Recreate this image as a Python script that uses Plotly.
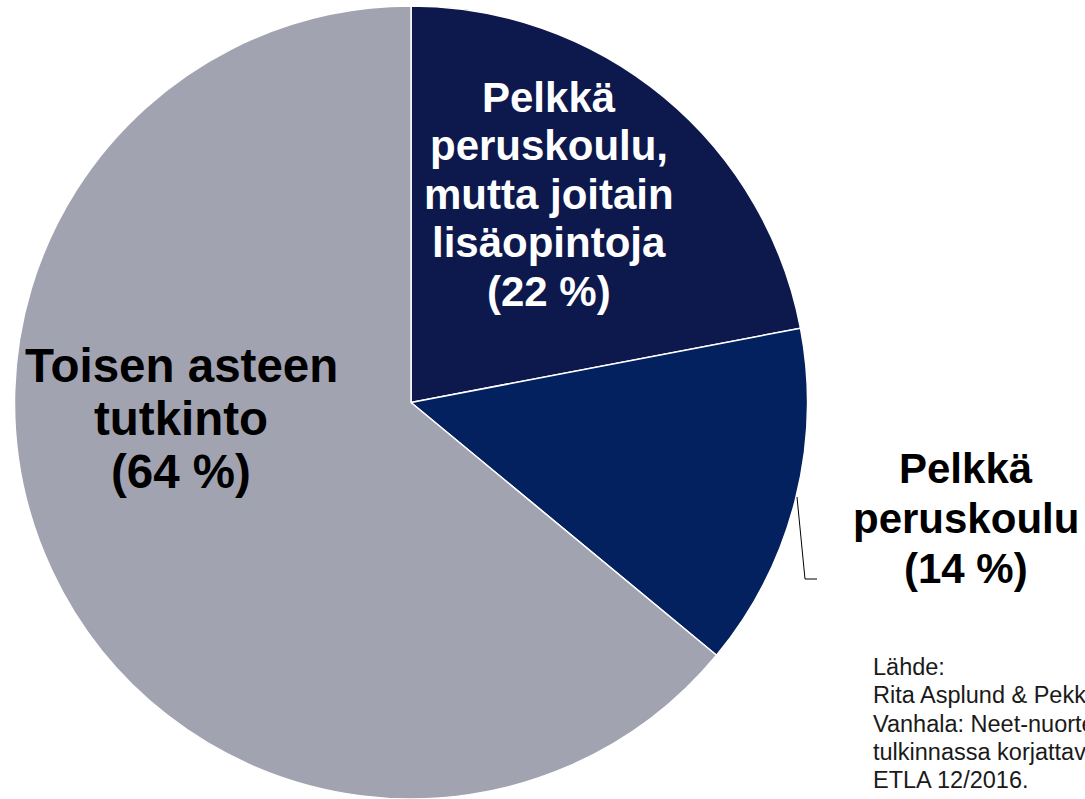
import plotly.graph_objects as go

# ---- data ----
categories = [
    "Pelkkä peruskoulu, mutta joitain lisäopintoja",
    "Pelkkä peruskoulu",
    "Toisen asteen tutkinto",
]
shares = [22, 14, 64]
slice_colors = ["#0d194d", "#03205f", "#a2a3b1"]
label_lines = [
    ["Pelkkä", "peruskoulu,", "mutta joitain", "lisäopintoja", "(22 %)"],
    ["Pelkkä", "peruskoulu", "(14 %)"],
    ["Toisen asteen", "tutkinto", "(64 %)"],
]
source_lines = [
    "Lähde:",
    "Rita Asplund & Pekka",
    "Vanhala: Neet-nuorten",
    "tulkinnassa korjattavaa.",
    "ETLA 12/2016.",
]

W, H = 1085, 799
FONT = "Arial, Liberation Sans, sans-serif"


def px(x):
    return x / W


def py(y):
    return 1 - y / H


fig = go.Figure(
    go.Pie(
        labels=categories,
        values=shares,
        marker=dict(colors=slice_colors, line=dict(color="white", width=1.5)),
        sort=False,
        direction="clockwise",
        rotation=0,
        textinfo="none",
        hoverinfo="label+percent",
        domain=dict(x=[px(14), px(808)], y=[0, py(6)]),
        showlegend=False,
    )
)

annotations = []


def add_block(lines, xc, baselines, size, color, anchor="center", weight="bold"):
    for line, b in zip(lines, baselines):
        annotations.append(
            dict(
                text=line,
                x=px(xc),
                y=py(b - 0.3465 * size),
                xref="paper",
                yref="paper",
                xanchor=anchor,
                yanchor="middle",
                showarrow=False,
                font=dict(family=FONT, size=size, color=color, weight=weight),
            )
        )


add_block(label_lines[0], 549, [112, 160.5, 209, 257.5, 306], 42, "white")
add_block(label_lines[1], 966, [483, 533, 583], 42, "black")
add_block(label_lines[2], 181, [382, 435, 488], 47.5, "black")
add_block(source_lines, 871, [675, 703, 732, 760, 788], 23.5, "#1a1a1a",
          anchor="left", weight="normal")

shapes = [
    dict(
        type="path",
        xref="paper",
        yref="paper",
        path=f"M {px(797)},{py(497)} L {px(805)},{py(579)} L {px(817)},{py(579)}",
        line=dict(color="black", width=1),
    )
]

fig.update_layout(
    width=W,
    height=H,
    margin=dict(l=0, r=0, t=0, b=0),
    paper_bgcolor="white",
    plot_bgcolor="white",
    annotations=annotations,
    shapes=shapes,
)

fig.write_html(
    "out.html",
    config={"displayModeBar": False},
    post_script="document.body.style.margin='0';document.body.style.overflow='hidden';",
)
